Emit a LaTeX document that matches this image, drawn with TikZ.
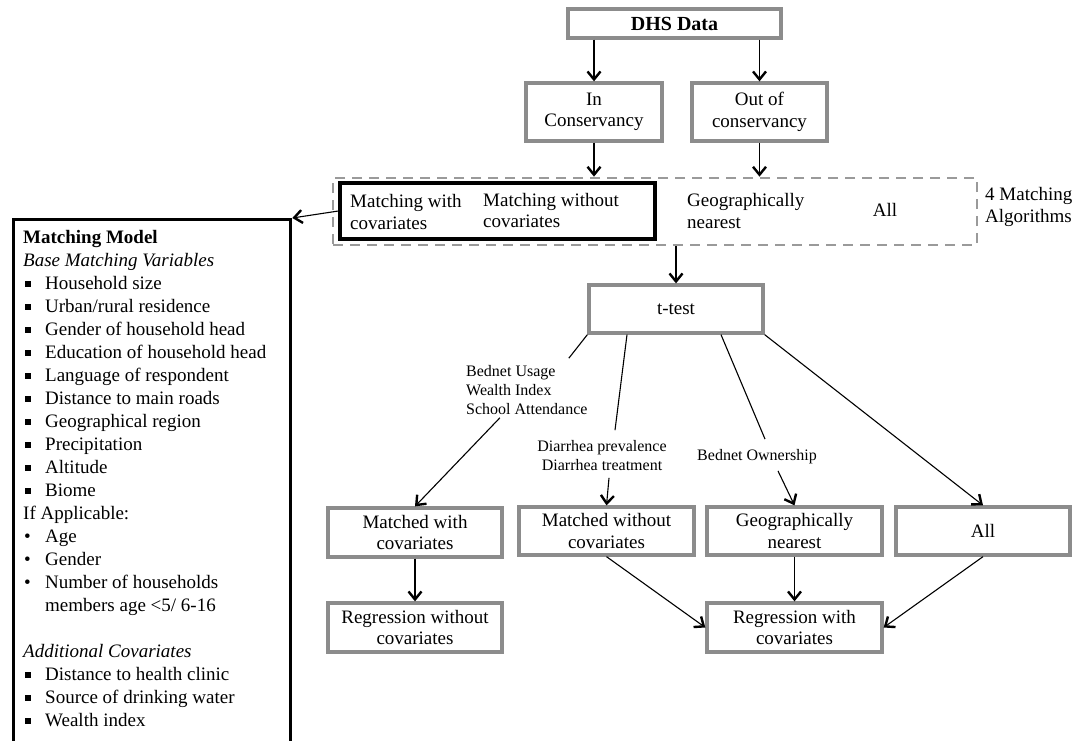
\documentclass[tikz,border=0pt]{standalone}
\usepackage{fontspec}
\setmainfont{Liberation Serif}
\usetikzlibrary{arrows.meta}
\definecolor{boxgray}{HTML}{8C8C8C}
\definecolor{dashgray}{HTML}{9A9A9A}
\newcommand\fsz[2]{\fontsize{#1}{#2}\selectfont}
\newcommand\sqb{\makebox[22pt][l]{\hspace{2pt}\rule[2.5pt]{5.5pt}{5.5pt}}}
\newcommand\rbul{\makebox[22pt][l]{\hspace{1pt}•}}
\begin{document}
\begin{tikzpicture}[x=1pt,y=-1pt,
  gbox/.style={draw=boxgray,line width=3.3pt,inner sep=2pt,align=center,font=\fsz{19}{21.5},minimum width=#1},
  gbox/.default=174pt,
  plain/.style={inner sep=0pt,align=left,font=\fsz{19}{21.5}},
  lbl/.style={inner sep=3pt,font=\fsz{16}{19}},
  conn/.style={line width=1.1pt},
  arr/.style={conn,-{Straight Barb[length=8pt,width=13pt,line width=2.4pt]}}]
\useasboundingbox (0,0) rectangle (1086,740);

% left model box
\node[draw,line width=3.3pt,anchor=north west,minimum width=277pt,minimum height=560pt,inner sep=0pt] (model) at (12,218) {};
\node[anchor=north west,inner sep=0pt,align=left,font=\fsz{19}{23}] (modeltext) at (23,230) {%
\textbf{Matching Model}\\
\textit{Base Matching Variables}\\
\sqb Household size\\
\sqb Urban/rural residence\\
\sqb Gender of household head\\
\sqb Education of household head\\
\sqb Language of respondent\\
\sqb Distance to main roads\\
\sqb Geographical region\\
\sqb Precipitation\\
\sqb Altitude\\
\sqb Biome\\
If Applicable:\\
\rbul Age\\
\rbul Gender\\
\rbul Number of households\\
\hspace*{22pt}members age <5/ 6-16\\[23pt]
\textit{Additional Covariates}\\
\sqb Distance to health clinic\\
\sqb Source of drinking water\\
\sqb Wealth index};

% top flow
\node[gbox=213pt,minimum height=29pt,font=\fsz{20}{22}\bfseries] (dhs) at (674.5,23.5) {DHS Data};
\node[gbox=136pt,minimum height=58pt] (in) at (594,112) {In\\Conservancy};
\node[gbox=135pt,minimum height=58pt] (out) at (759.5,112) {Out of\\conservancy};

\node[draw=dashgray,line width=2.7pt,dash pattern=on 10pt off 7pt,minimum width=644pt,minimum height=67pt,inner sep=0pt] (dashed) at (655,211.5) {};
\node[draw=black,line width=3.3pt,minimum width=315pt,minimum height=56pt,inner sep=0pt] (blackbox) at (497.5,211) {};
\node[plain,anchor=west] (a1) at (350,212) {Matching with\\covariates};
\node[plain,anchor=west] (a2) at (483,210.5) {Matching without\\covariates};
\node[plain,anchor=west] (a3) at (687,211) {Geographically\\nearest};
\node[plain] (a4) at (885,210) {All};
\node[plain,anchor=west] (alg) at (985,207) {4 Matching\\Algorithms};

\node[gbox=174pt,minimum height=48pt] (ttest) at (676,309) {t-test};

% labels
\node[lbl,anchor=west,align=left,inner xsep=2pt] (l1) at (464,390) {Bednet Usage\\Wealth Index\\School Attendance};
\node[lbl,align=center] (l2) at (602,455.5) {Diarrhea prevalence\\Diarrhea treatment};
\node[lbl] (l3) at (757,457) {Bednet Ownership};

% bottom boxes
\node[gbox=174pt,minimum height=49pt] (mw) at (415,532.5) {Matched with\\covariates};
\node[gbox=175pt,minimum height=48pt] (mwo) at (606.5,531) {Matched without\\covariates};
\node[gbox=175pt,minimum height=48pt] (geo) at (794.5,531) {Geographically\\nearest};
\node[gbox=174pt,minimum height=48pt] (all) at (983,531) {All};
\node[gbox=174pt,minimum height=49pt] (rwo) at (415,627.5) {Regression without\\covariates};
\node[gbox=175pt,minimum height=49pt] (rw) at (794.5,627.5) {Regression with\\covariates};

% connectors
\draw[arr] (dhs.south -| in.north) -- (in.north);
\draw[arr] (dhs.south -| out.north) -- (out.north);
\draw[arr] (in.south) -- (in.south |- dashed.north);
\draw[arr] (out.south) -- (out.south |- dashed.north);
\draw[arr] (blackbox.west) -- (model.north east);
\draw[arr] (dashed.south -| ttest.north) -- (ttest.north);

\draw[conn] (ttest.south west) -- ([xshift=42pt,yshift=4pt]l1.north);
\draw[arr] ([xshift=-27pt]l1.south) -- (mw.north);
\draw[conn] ([xshift=-49pt]ttest.south) -- ([xshift=13pt,yshift=7pt]l2.north);
\draw[arr] ([xshift=7pt,yshift=-4pt]l2.south) -- (mwo.north);
\draw[conn] ([xshift=45pt]ttest.south) -- ([xshift=8pt,yshift=7.5pt]l3.north);
\draw[arr] ([xshift=21pt,yshift=-3.5pt]l3.south) -- (geo.north);
\draw[arr] (ttest.south east) -- (all.north);

\draw[arr] (mw) -- (rwo);
\draw[arr] (mwo.south) -- (rw.west);
\draw[arr] (geo) -- (rw);
\draw[arr] (all.south) -- (rw.east);
\end{tikzpicture}
\end{document}
